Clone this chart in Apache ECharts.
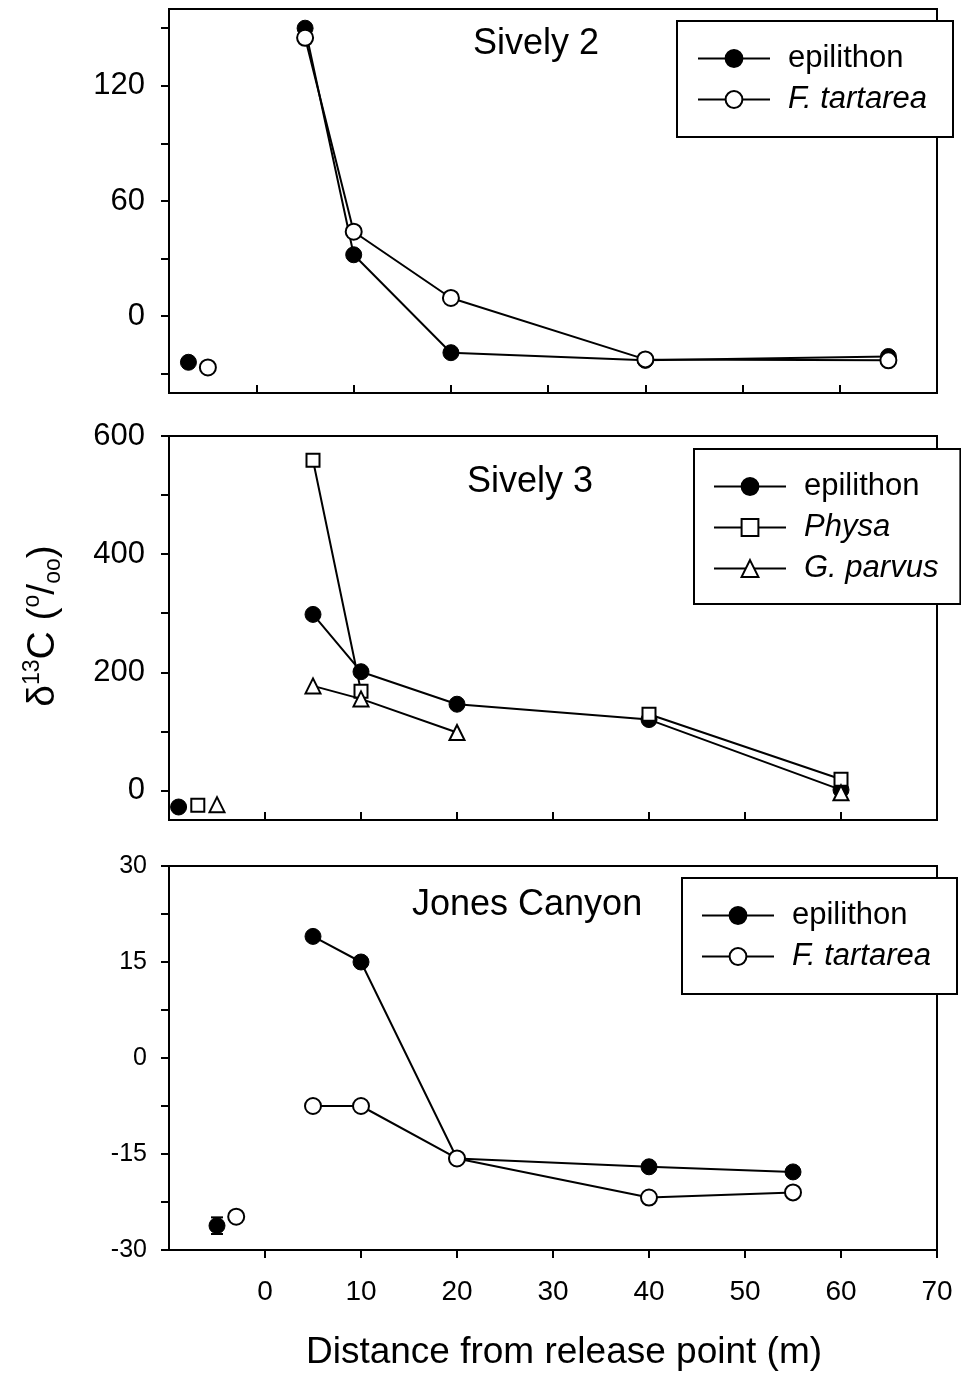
<!DOCTYPE html>
<html>
<head>
<meta charset="utf-8">
<script src="https://cdn.jsdelivr.net/npm/echarts@6/dist/echarts.min.js"></script>
<style>
  html, body { margin: 0; padding: 0; background: #fff; }
  #chart { width: 961px; height: 1376px; }
</style>
</head>
<body>
<div id="chart"></div>
<script>
// Sively 2: distances (m) and δ13C values
const s2Distance = [5, 10, 20, 40, 65];
const s2Epilithon = [150, 32, -19, -23, -21];
const s2Tartarea = [145, 44, 9.5, -22.5, -23];
const s2EpilithonRef = [-7, -24];   // upstream reference [x, y]
const s2TartareaRef = [-5, -26.7];

// Sively 3
const s3Distance = [5, 10, 20, 40, 60];
const s3Epilithon = [298, 201, 146, 120, 1];
const s3Physa = [559, 168, null, 129, 19];
const s3Parvus = [177, 155, 98, null, -4];
const s3EpilithonRef = [-9, -28];
const s3PhysaRef = [-7, -25];
const s3ParvusRef = [-5, -24];

// Jones Canyon
const jcDistance = [5, 10, 20, 40, 55];
const jcEpilithon = [19, 15, -15.7, -17, -17.8];
const jcTartarea = [-7.5, -7.5, -15.7, -21.8, -21];
const jcEpilithonRef = [-5, -26.2];
const jcEpilithonRefErr = 1.3;
const jcTartareaRef = [-3, -24.8];

// Axis tick values
const xTicks = [0, 10, 20, 30, 40, 50, 60, 70];
const s2YLabels = [0, 60, 120];
const s2YTicks = [-30, 0, 30, 60, 90, 120, 150];
const s3YLabels = [0, 200, 400, 600];
const s3YTicks = [0, 100, 200, 300, 400, 500, 600];
const jcYLabels = [-30, -15, 0, 15, 30];
const jcYTicks = [-30, -22.5, -15, -7.5, 0, 7.5, 15, 22.5, 30];

const panelTitles = ['Sively 2', 'Sively 3', 'Jones Canyon'];

const FONT = '"Liberation Sans", Arial, sans-serif';
const BLACK = '#000';

const pair = (xs, ys) => xs.map((x, i) => [x, ys[i] == null ? '-' : ys[i]]);

const filled = { color: BLACK, borderColor: BLACK, borderWidth: 1, opacity: 1 };
const open = { color: '#fff', borderColor: BLACK, borderWidth: 2, opacity: 1 };

function lineSeries(name, idx, xs, ys, symbol, size, style, z) {
  return {
    name, type: 'line', xAxisIndex: idx, yAxisIndex: idx,
    data: pair(xs, ys), connectNulls: false,
    symbol, symbolSize: size, showAllSymbol: true,
    itemStyle: style, lineStyle: { color: BLACK, width: 2 },
    z, silent: true
  };
}
function refSeries(idx, pt, symbol, size, style, z) {
  return {
    name: 'ref', type: 'scatter', xAxisIndex: idx, yAxisIndex: idx,
    data: [pt], symbol, symbolSize: size, itemStyle: style, z, silent: true
  };
}

const grids = [
  { left: 169, top: 9, width: 768, height: 384 },
  { left: 169, top: 436, width: 768, height: 384 },
  { left: 169, top: 866, width: 768, height: 384 }
].map(g => Object.assign(g, { show: true, borderColor: BLACK, borderWidth: 2, backgroundColor: 'transparent' }));

function xAxis(idx, min, showLabels) {
  return {
    type: 'value', gridIndex: idx, min, max: 70,
    axisLine: { onZero: false, lineStyle: { color: BLACK, width: 2 } },
    axisTick: { show: true, inside: !showLabels, length: 8, lineStyle: { color: BLACK, width: 2 }, customValues: xTicks },
    axisLabel: { show: showLabels, customValues: xTicks, margin: 28, fontSize: 28, color: BLACK, fontFamily: FONT },
    splitLine: { show: false }
  };
}
function yAxis(idx, min, max, labels, ticks, fontSize, margin) {
  return {
    type: 'value', gridIndex: idx, min, max,
    axisLine: { onZero: false, lineStyle: { color: BLACK, width: 2 } },
    axisTick: { show: true, inside: false, length: 8, lineStyle: { color: BLACK, width: 2 }, customValues: ticks },
    axisLabel: { customValues: labels, margin, fontSize, color: BLACK, fontFamily: FONT },
    splitLine: { show: false }
  };
}

function legend(left, top, items, padding) {
  return {
    orient: 'vertical', left, top, padding,
    borderColor: BLACK, borderWidth: 2, backgroundColor: '#fff',
    itemWidth: 72, itemHeight: 21, itemGap: 10,
    selectedMode: false,
    textStyle: { fontSize: 31, lineHeight: 30, color: BLACK, fontFamily: FONT, padding: [0, 0, 0, 13] },
    data: items.map(([name, italic]) => italic ? { name, textStyle: { fontStyle: 'italic' } } : { name })
  };
}

const option = {
  animation: false,
  backgroundColor: '#fff',
  textStyle: { fontFamily: FONT },
  grid: grids,
  xAxis: [xAxis(0, -9, false), xAxis(1, -10, false), xAxis(2, -10, true)],
  yAxis: [
    yAxis(0, -40, 160, s2YLabels, s2YTicks, 31, 24),
    yAxis(1, -50, 600, s3YLabels, s3YTicks, 31, 24),
    yAxis(2, -30, 30, jcYLabels, jcYTicks, 25, 22)
  ],
  title: [
    { text: panelTitles[0], left: 473, top: 26 },
    { text: panelTitles[1], left: 467, top: 464 },
    { text: panelTitles[2], left: 412, top: 887 }
  ].map(t => Object.assign(t, { padding: 0, textStyle: { fontSize: 36, fontWeight: 'normal', color: BLACK, fontFamily: FONT } })),
  legend: [
    legend(677, 21, [['epilithon', false], ['F. tartarea', true]], [22, 26, 22, 20]),
    legend(694, 449, [['epilithon', false], ['Physa', true], ['G. parvus', true]], [22, 22, 20, 19]),
    legend(682, 878, [['epilithon', false], ['F. tartarea', true]], [22, 26, 22, 19])
  ],
  graphic: [
    {
      type: 'text', x: 43, y: 626, rotation: Math.PI / 2,
      style: {
        text: '{m|δ}{sup|13}{m|C (}{sup|o}{m|/}{sub|oo}{m|)}',
        align: 'center', verticalAlign: 'middle',
        fill: BLACK,
        rich: {
          m: { fontSize: 39, lineHeight: 44, fontFamily: FONT, verticalAlign: 'middle' },
          sup: { fontSize: 23, lineHeight: 23, fontFamily: FONT, verticalAlign: 'top' },
          sub: { fontSize: 23, lineHeight: 23, fontFamily: FONT, verticalAlign: 'bottom' }
        }
      }
    },
    {
      type: 'text', x: 564, y: 1353,
      style: {
        text: 'Distance from release point (m)',
        align: 'center', verticalAlign: 'middle',
        fill: BLACK, fontSize: 37, fontFamily: FONT
      }
    }
  ],
  series: [
    // Sively 2
    lineSeries('epilithon', 0, s2Distance, s2Epilithon, 'circle', 16, filled, 3),
    lineSeries('F. tartarea', 0, s2Distance, s2Tartarea, 'circle', 16, open, 4),
    refSeries(0, s2EpilithonRef, 'circle', 16, filled, 3),
    refSeries(0, s2TartareaRef, 'circle', 16, open, 4),
    // Sively 3
    lineSeries('epilithon', 1, s3Distance, s3Epilithon, 'circle', 16, filled, 3),
    lineSeries('Physa', 1, s3Distance, s3Physa, 'rect', 13, open, 4),
    lineSeries('G. parvus', 1, s3Distance, s3Parvus, 'triangle', 15, open, 5),
    refSeries(1, s3EpilithonRef, 'circle', 16, filled, 3),
    refSeries(1, s3PhysaRef, 'rect', 13, open, 4),
    refSeries(1, s3ParvusRef, 'triangle', 15, open, 5),
    // Jones Canyon
    {
      type: 'custom', xAxisIndex: 2, yAxisIndex: 2, z: 1, silent: true,
      data: [[jcEpilithonRef[0], jcEpilithonRef[1] - jcEpilithonRefErr, jcEpilithonRef[1] + jcEpilithonRefErr]],
      renderItem(params, api) {
        const lo = api.coord([api.value(0), api.value(1)]);
        const hi = api.coord([api.value(0), api.value(2)]);
        const w = 6;
        const st = { stroke: BLACK, lineWidth: 2 };
        return {
          type: 'group',
          children: [
            { type: 'line', shape: { x1: lo[0], y1: lo[1], x2: hi[0], y2: hi[1] }, style: st },
            { type: 'line', shape: { x1: lo[0] - w, y1: lo[1], x2: lo[0] + w, y2: lo[1] }, style: st },
            { type: 'line', shape: { x1: hi[0] - w, y1: hi[1], x2: hi[0] + w, y2: hi[1] }, style: st }
          ]
        };
      }
    },
    lineSeries('epilithon', 2, jcDistance, jcEpilithon, 'circle', 16, filled, 3),
    lineSeries('F. tartarea', 2, jcDistance, jcTartarea, 'circle', 16, open, 4),
    refSeries(2, jcEpilithonRef, 'circle', 16, filled, 3),
    refSeries(2, jcTartareaRef, 'circle', 16, open, 4)
  ]
};

const chart = echarts.init(document.getElementById('chart'), null, { renderer: 'canvas' });
chart.setOption(option);
</script>
</body>
</html>
